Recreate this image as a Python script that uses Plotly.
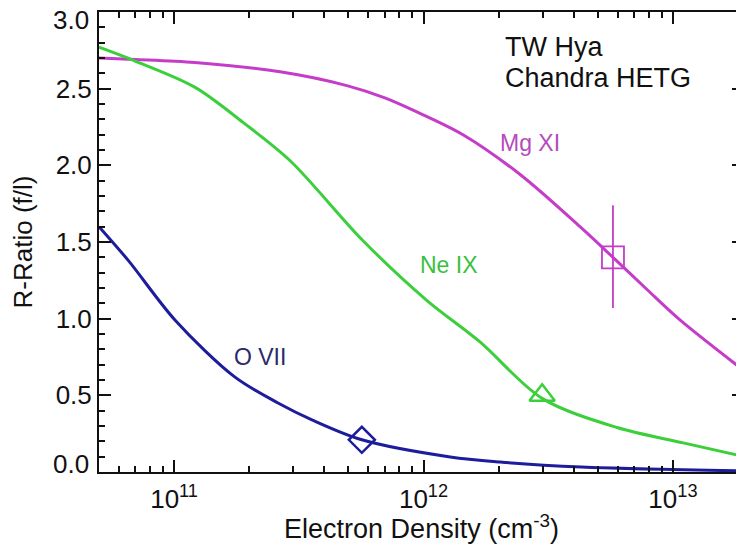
import plotly.graph_objects as go

# ---- data ----
mg_density = [5.0e10, 6.98e10, 1.21e11, 2.66e11, 4.93e11, 7.0e11, 9.08e11, 1.44e12,
              2.44e12, 4.24e12, 5.75e12, 7.87e12, 1.07e13, 1.93e13]
mg_ratio = [2.70, 2.69, 2.67, 2.61, 2.52, 2.44, 2.36, 2.20, 1.94, 1.60, 1.40, 1.19, 0.99, 0.66]

ne_density = [5.0e10, 6.98e10, 1.21e11, 1.89e11, 2.92e11, 5.71e11,
              1.03e12, 1.68e12, 2.99e12, 5.97e12, 1.10e13, 1.93e13]
ne_ratio = [2.77, 2.68, 2.51, 2.28, 2.03, 1.51, 1.12, 0.85, 0.48, 0.29, 0.19, 0.10]

o_density = [5.0e10, 6.55e10, 1.01e11, 1.75e11, 2.61e11, 3.57e11, 5.66e11,
             1.28e12, 2.03e12, 4.3e12, 1.93e13]
o_ratio = [1.60, 1.38, 0.99, 0.62, 0.45, 0.34, 0.21, 0.098, 0.065, 0.033, 0.007]

# observed TW Hya points
obs_o_density, obs_o_ratio = [5.66e11], [0.21]
obs_ne_density, obs_ne_ratio = [2.99e12], [0.50]
obs_mg_density, obs_mg_ratio = [5.75e12], [1.40]
obs_mg_err_plus, obs_mg_err_minus = [0.34], [0.33]

x_major = [1e11, 1e12, 1e13]
x_major_text = ["10<sup>11</sup>", "10<sup>12</sup>", "10<sup>13</sup>"]
x_minor = [m * 10 ** e for e in (10, 11, 12) for m in range(2, 10)] + [2e13]
y_major = [0.0, 0.5, 1.0, 1.5, 2.0, 2.5, 3.0]
y_major_text = ["", "0.5", "1.0", "1.5", "2.0", "2.5", ""]
y_end_labels = [0.0, 3.0]

MAG = "#c43cc8"
GRN = "#3ccf3c"
BLU = "#1c1c9c"
FONT = "Liberation Sans, Arial, Helvetica, sans-serif"

fig = go.Figure()
fig.add_trace(go.Scatter(x=mg_density, y=mg_ratio, mode="lines",
                         line=dict(color=MAG, width=3, shape="spline", smoothing=0.9)))
fig.add_trace(go.Scatter(x=ne_density, y=ne_ratio, mode="lines",
                         line=dict(color=GRN, width=3, shape="spline", smoothing=0.9)))
fig.add_trace(go.Scatter(x=o_density, y=o_ratio, mode="lines",
                         line=dict(color=BLU, width=3, shape="spline", smoothing=0.9)))

fig.add_trace(go.Scatter(x=obs_o_density, y=obs_o_ratio, mode="markers",
                         marker=dict(symbol="diamond-open", size=20, color=BLU,
                                     line=dict(width=2.5, color=BLU))))
fig.add_trace(go.Scatter(x=obs_ne_density, y=obs_ne_ratio, mode="markers",
                         marker=dict(symbol="triangle-up-open", size=22, color=GRN,
                                     line=dict(width=2.5, color=GRN))))
fig.add_trace(go.Scatter(x=obs_mg_density, y=obs_mg_ratio, mode="markers",
                         marker=dict(symbol="square-open", size=22, color=MAG,
                                     line=dict(width=1.8, color=MAG)),
                         error_y=dict(type="data", array=obs_mg_err_plus,
                                      arrayminus=obs_mg_err_minus, symmetric=False,
                                      color=MAG, thickness=1.8, width=0)))

tick_font = dict(family=FONT, size=26, color="#111111")
ann_font = dict(family=FONT, size=27, color="#111111")
fig.add_annotation(x=0.626, y=0.924, xref="paper", yref="paper", text="TW Hya",
                   showarrow=False, xanchor="left", yanchor="middle", font=ann_font)
fig.add_annotation(x=0.626, y=0.857, xref="paper", yref="paper", text="Chandra HETG",
                   showarrow=False, xanchor="left", yanchor="middle", font=ann_font)
fig.add_annotation(x=0.619, y=0.715, xref="paper", yref="paper", text="Mg XI",
                   showarrow=False, xanchor="left", yanchor="middle",
                   font=dict(family=FONT, size=23, color="#b44cbc"))
fig.add_annotation(x=0.495, y=0.450, xref="paper", yref="paper", text="Ne IX",
                   showarrow=False, xanchor="left", yanchor="middle",
                   font=dict(family=FONT, size=23, color="#3cbf3c"))
fig.add_annotation(x=0.206, y=0.250, xref="paper", yref="paper", text="O VII",
                   showarrow=False, xanchor="left", yanchor="middle",
                   font=dict(family=FONT, size=23, color="#2a2a6a"))
# end tick labels of the y axis, nudged inside as in the original
for val, shift in zip(y_end_labels, [8, -8]):
    fig.add_annotation(x=0, y=val, xref="paper", yref="y", text=f"{val:.1f}",
                       showarrow=False, xanchor="right", yanchor="middle",
                       xshift=-8, yshift=shift, font=tick_font)

fig.update_xaxes(type="log", range=[10.699, 13.285], automargin=False,
                 tickmode="array", tickvals=x_major, ticktext=x_major_text,
                 ticks="inside", ticklen=12, tickwidth=2, tickcolor="#111111",
                 ticklabelstandoff=3,
                 minor=dict(tickmode="array", tickvals=x_minor, ticks="inside",
                            ticklen=6, tickwidth=1.5, tickcolor="#111111"),
                 showline=True, linewidth=2, linecolor="#111111", mirror="ticks",
                 showgrid=False, zeroline=False, tickfont=tick_font,
                 title=dict(text="Electron Density (cm<sup>-3</sup>)",
                            font=dict(family=FONT, size=27, color="#111111"), standoff=4))
fig.update_yaxes(range=[0, 3.0], automargin=False,
                 tickmode="array", tickvals=y_major, ticktext=y_major_text,
                 ticks="inside", ticklen=12, tickwidth=2, tickcolor="#111111",
                 minor=dict(dtick=0.1, ticks="inside", ticklen=6, tickwidth=1.5,
                            tickcolor="#111111"),
                 showline=True, linewidth=2, linecolor="#111111", mirror="ticks",
                 showgrid=False, zeroline=False, tickfont=tick_font,
                 title=dict(text="R-Ratio (f/l)",
                            font=dict(family=FONT, size=26, color="#111111"), standoff=22))

# the page adds an 8 px body margin, so the figure is 8 px smaller and shifted
fig.update_layout(width=736, height=536, showlegend=False,
                  margin=dict(l=91, r=0, t=4, b=72),
                  paper_bgcolor="white", plot_bgcolor="white")

fig.write_html("out.html")
